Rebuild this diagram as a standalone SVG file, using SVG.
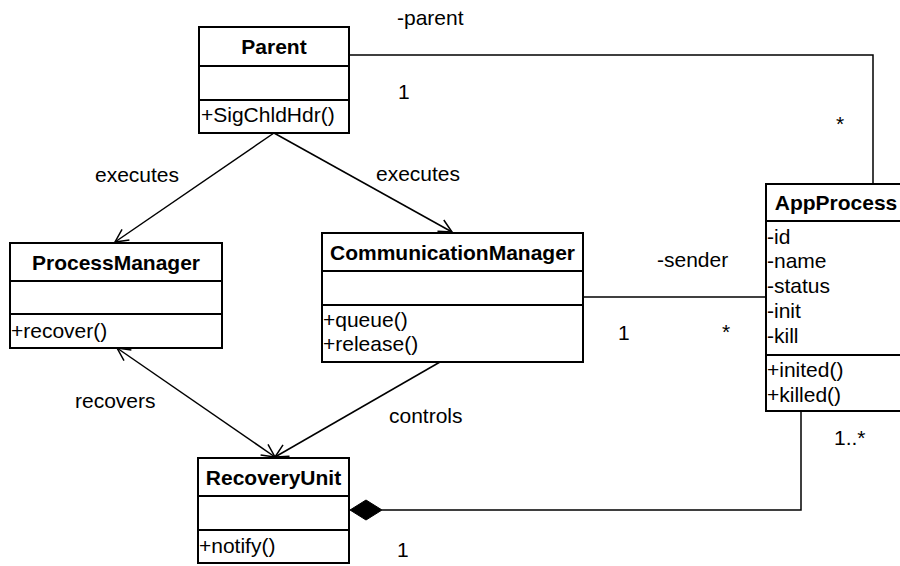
<svg xmlns="http://www.w3.org/2000/svg" width="900" height="566" viewBox="0 0 900 566">
<style>
.box{fill:#fff;stroke:#000;stroke-width:2}
.sep{stroke:#000;stroke-width:2}
.t{font-family:"Liberation Sans",Arial,sans-serif;font-size:21px;fill:#000}
.b{font-weight:bold;text-anchor:middle}
.c{fill:none;stroke:#000;stroke-width:1.5}
</style>
<defs>
<marker id="open" viewBox="-14 -8 16 16" markerWidth="16" markerHeight="16" refX="0" refY="0" orient="auto-start-reverse" markerUnits="userSpaceOnUse">
<path d="M-13,-6.5 L0,0 L-13,6.5" fill="none" stroke="#000" stroke-width="1.5"/>
</marker>
</defs>
<rect width="900" height="566" fill="#fff"/>
<g id="connectors">
<polyline class="c" points="349,55 873,55 873,184"/>
<line class="c" x1="274" y1="133" x2="115" y2="242" marker-end="url(#open)"/>
<line class="c" x1="274" y1="133" x2="452" y2="232" marker-end="url(#open)"/>
<line class="c" x1="117" y1="348" x2="275" y2="457" marker-start="url(#open)" marker-end="url(#open)"/>
<line class="c" x1="440" y1="362" x2="275" y2="457" marker-end="url(#open)"/>
<line class="c" x1="583" y1="297" x2="766" y2="297"/>
<polyline class="c" points="382,510 801,510 801,411"/>
<polygon points="350,510 366,500 382,510 366,520" fill="#000" stroke="#000" stroke-width="1"/>
</g>
<g id="Parent">
<rect class="box" x="199" y="27" width="150" height="106"/>
<line class="sep" x1="199" y1="66" x2="349" y2="66"/>
<line class="sep" x1="199" y1="100" x2="349" y2="100"/>
<text class="t b" x="274" y="54">Parent</text>
<text class="t" x="201" y="122">+SigChldHdr()</text>
</g>
<g id="ProcessManager">
<rect class="box" x="10" y="243" width="212" height="105"/>
<line class="sep" x1="10" y1="281" x2="222" y2="281"/>
<line class="sep" x1="10" y1="314" x2="222" y2="314"/>
<text class="t b" x="116" y="270">ProcessManager</text>
<text class="t" x="11" y="338">+recover()</text>
</g>
<g id="CommunicationManager">
<rect class="box" x="322" y="233" width="261" height="129"/>
<line class="sep" x1="322" y1="271" x2="583" y2="271"/>
<line class="sep" x1="322" y1="305" x2="583" y2="305"/>
<text class="t b" x="452.5" y="260">CommunicationManager</text>
<text class="t" x="323" y="327">+queue()</text>
<text class="t" x="323" y="351">+release()</text>
</g>
<g id="AppProcess">
<rect class="box" x="766" y="184" width="140" height="227"/>
<line class="sep" x1="766" y1="221" x2="906" y2="221"/>
<line class="sep" x1="766" y1="355" x2="906" y2="355"/>
<text class="t b" x="836" y="210">AppProcess</text>
<text class="t" x="767" y="244">-id</text>
<text class="t" x="767" y="268">-name</text>
<text class="t" x="767" y="293">-status</text>
<text class="t" x="767" y="318">-init</text>
<text class="t" x="767" y="343">-kill</text>
<text class="t" x="767" y="377">+inited()</text>
<text class="t" x="767" y="402">+killed()</text>
</g>
<g id="RecoveryUnit">
<rect class="box" x="198" y="458" width="151" height="105"/>
<line class="sep" x1="198" y1="496" x2="349" y2="496"/>
<line class="sep" x1="198" y1="530" x2="349" y2="530"/>
<text class="t b" x="273.5" y="485">RecoveryUnit</text>
<text class="t" x="199" y="553">+notify()</text>
</g>
<g id="labels">
<text class="t" x="397" y="25">-parent</text>
<text class="t" x="398" y="99">1</text>
<text class="t" x="836" y="131">*</text>
<text class="t" x="95" y="182">executes</text>
<text class="t" x="376" y="181">executes</text>
<text class="t" x="657" y="267">-sender</text>
<text class="t" x="618" y="340">1</text>
<text class="t" x="722" y="339">*</text>
<text class="t" x="75" y="408">recovers</text>
<text class="t" x="389" y="423">controls</text>
<text class="t" x="834" y="445">1..*</text>
<text class="t" x="397" y="557">1</text>
</g>
</svg>
